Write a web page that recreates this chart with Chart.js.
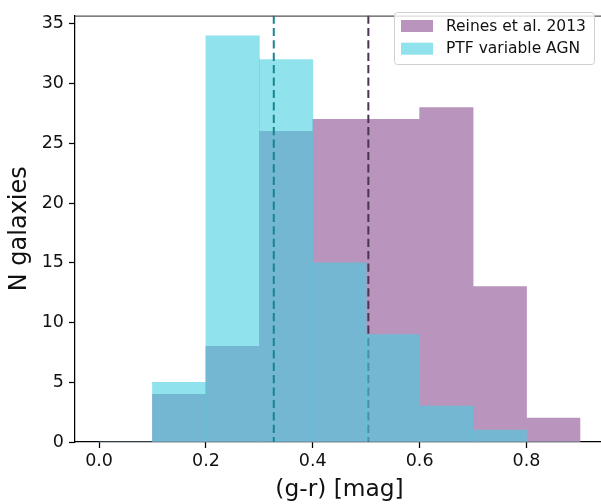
<!DOCTYPE html>
<html>
<head>
<meta charset="utf-8">
<script src="https://cdn.jsdelivr.net/npm/chart.js@4.4.1/dist/chart.umd.min.js"></script>
<style>
  html, body { margin: 0; padding: 0; overflow: hidden; background: #fff; }
  #wrap { width: 606px; height: 504px; }
</style>
</head>
<body>
<div id="wrap"><canvas id="histChart"></canvas></div>
<script>
// bin centres of the (g-r) histogram, width 0.1 mag
const binCenters = [0.05, 0.15, 0.25, 0.35, 0.45, 0.55, 0.65, 0.75, 0.85];
const reinesCounts = [0, 4, 8, 26, 27, 27, 28, 13, 2];
const ptfCounts = [0, 5, 34, 32, 15, 9, 3, 1, 0];
// dashed lines: sample medians
const reinesMedian = 0.504;
const ptfMedian = 0.327;
const seriesLabels = ['Reines et al. 2013', 'PTF variable AGN'];
const xTicks = [0.0, 0.2, 0.4, 0.6, 0.8];
const yTicks = [0, 5, 10, 15, 20, 25, 30, 35];
const xRange = [-0.045, 0.945];
const yRange = [0, 35.7];

const purple = 'rgb(185,148,189)';
const cyan = 'rgba(70,207,225,0.6)';
const FONT = 'DejaVu Sans';
const INK = '#111';

const toPoints = (vals) => binCenters.map((x, i) => ({ x: x, y: vals[i] }));
// drawn top-down so the dash pattern starts at the top spine
const vline = (x) => [{ x: x, y: yRange[1] }, { x: x, y: yRange[0] }];

const framePlugin = {
    id: 'frame',
    afterDraw(chart) {
        const ctx = chart.ctx;
        const a = chart.chartArea;
        ctx.save();
        // top spine
        ctx.strokeStyle = '#555';
        ctx.lineWidth = 1.25;
        ctx.beginPath();
        ctx.moveTo(a.left, a.top + 0.5);
        ctx.lineTo(a.right, a.top + 0.5);
        ctx.stroke();

        // legend box in the upper right
        const bx = 394, by = 12.5, bw = 200, bh = 52;
        ctx.fillStyle = 'rgba(255,255,255,0.8)';
        ctx.strokeStyle = '#d0d0d0';
        ctx.lineWidth = 1;
        ctx.beginPath();
        ctx.roundRect(bx + 0.5, by, bw, bh, 3);
        ctx.fill();
        ctx.stroke();
        const swatches = [purple, cyan];
        ctx.font = '15.5px "' + FONT + '"';
        ctx.textBaseline = 'middle';
        seriesLabels.forEach((lab, i) => {
            const y = 20 + i * 22.7;
            ctx.fillStyle = swatches[i];
            ctx.fillRect(401, y, 32, 12);
            ctx.fillStyle = INK;
            ctx.fillText(lab, 446, y + 6.5);
        });
        ctx.restore();
    }
};

const ctx = document.getElementById('histChart').getContext('2d');
new Chart(ctx, {
    type: 'bar',
    data: {
        datasets: [
            {
                label: seriesLabels[0],
                data: toPoints(reinesCounts),
                backgroundColor: purple,
                borderWidth: 0,
                grouped: false,
                barPercentage: 1,
                categoryPercentage: 1,
                order: 4
            },
            {
                type: 'line',
                label: 'Reines median',
                data: vline(reinesMedian),
                borderColor: '#4a3450',
                borderWidth: 2,
                borderDash: [8.2, 4.2],
                pointRadius: 0,
                fill: false,
                order: 3
            },
            {
                label: seriesLabels[1],
                data: toPoints(ptfCounts),
                backgroundColor: cyan,
                borderWidth: 0,
                grouped: false,
                barPercentage: 1,
                categoryPercentage: 1,
                order: 2
            },
            {
                type: 'line',
                label: 'PTF median',
                data: vline(ptfMedian),
                borderColor: '#17848f',
                borderWidth: 2,
                borderDash: [8.2, 4.2],
                pointRadius: 0,
                fill: false,
                order: 1
            }
        ]
    },
    options: {
        responsive: true,
        maintainAspectRatio: false,
        animation: false,
        layout: { padding: { top: 5, right: 2, left: 0, bottom: 0 } },
        plugins: {
            legend: { display: false },
            tooltip: { enabled: false }
        },
        scales: {
            x: {
                type: 'linear',
                min: xRange[0],
                max: xRange[1],
                offset: false,
                afterBuildTicks: (s) => { s.ticks = xTicks.map(v => ({ value: v })); },
                afterFit: (s) => { s.height = 62; },
                grid: {
                    offset: false,
                    drawOnChartArea: false,
                    drawTicks: true,
                    tickLength: 6,
                    tickWidth: 1.25,
                    tickColor: '#000'
                },
                border: { color: '#000', width: 1.25 },
                ticks: {
                    padding: 3,
                    color: INK,
                    font: { family: FONT, size: 17.5 },
                    callback: (v) => v.toFixed(1)
                },
                title: {
                    display: true,
                    text: '(g-r) [mag]',
                    color: INK,
                    font: { family: FONT, size: 23.3 },
                    padding: { top: 0, bottom: 0 }
                }
            },
            y: {
                min: yRange[0],
                max: yRange[1],
                afterBuildTicks: (s) => { s.ticks = yTicks.map(v => ({ value: v })); },
                afterFit: (s) => { s.width = 75; },
                grid: {
                    drawOnChartArea: false,
                    drawTicks: true,
                    tickLength: 6,
                    tickWidth: 1.25,
                    tickColor: '#000'
                },
                border: { color: '#000', width: 1.25 },
                ticks: {
                    padding: 5,
                    color: INK,
                    font: { family: FONT, size: 17.5 }
                },
                title: {
                    display: true,
                    text: 'N galaxies',
                    color: INK,
                    font: { family: FONT, size: 24 },
                    padding: { top: 5, bottom: 0 }
                }
            }
        }
    },
    plugins: [framePlugin]
});
</script>
</body>
</html>
